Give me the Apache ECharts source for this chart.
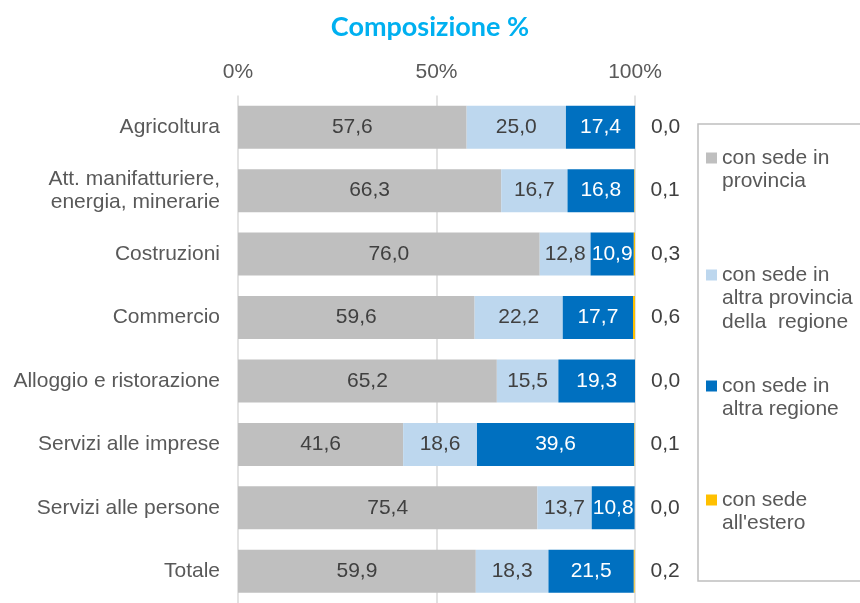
<!DOCTYPE html>
<html>
<head>
<meta charset="utf-8">
<script src="https://cdn.jsdelivr.net/npm/echarts@6/dist/echarts.min.js"></script>
<style>
  html, body { margin: 0; padding: 0; background: #fff; }
  #chart { width: 860px; height: 603px; }
</style>
</head>
<body>
<div id="chart"></div>
<script>
var categories = ['Agricoltura', 'Att. manifatturiere,\nenergia, minerarie', 'Costruzioni', 'Commercio',
  'Alloggio e ristorazione', 'Servizi alle imprese', 'Servizi alle persone', 'Totale']
var seriesNames = ['con sede in\nprovincia', 'con sede in\naltra provincia\ndella  regione',
  'con sede in\naltra regione', "con sede\nall'estero"]
var provincia = [57.6, 66.3, 76.0, 59.6, 65.2, 41.6, 75.4, 59.9]
var altraProvincia = [25.0, 16.7, 12.8, 22.2, 15.5, 18.6, 13.7, 18.3]
var altraRegione = [17.4, 16.8, 10.9, 17.7, 19.3, 39.6, 10.8, 21.5]
var estero = [0.0, 0.1, 0.3, 0.6, 0.0, 0.1, 0.0, 0.2]
var xTicks = [0, 50, 100]

var font = "'Liberation Sans', Arial, sans-serif"
var colors = ['#bfbfbf', '#bdd7ee', '#0070c0', '#ffc000']
var labelColors = ['#404040', '#404040', '#ffffff', '#404040']
var barWidth = 43
var lh = 23.5

var chart = echarts.init(document.getElementById('chart'))

function fmt(p) {
  return p.value.toFixed(1).replace('.', ',')
}

function makeSeries(i, data) {
  return {
    name: seriesNames[i],
    type: 'bar',
    stack: 'tot',
    barWidth: barWidth,
    itemStyle: { color: colors[i] },
    label: {
      show: true,
      position: i === 3 ? 'right' : 'inside',
      distance: 16,
      color: labelColors[i],
      fontSize: 21,
      fontFamily: font,
      formatter: fmt
    },
    emphasis: { disabled: true },
    data: data
  }
}

// una legenda per voce; righe vuote davanti così la prima riga sta all'altezza del quadratino
var legendIconY = [158, 275, 386, 500]
var legends = seriesNames.map(function (n, i) {
  var lines = n.split('\n').length
  var total = 2 * lines - 1
  return {
    data: [n],
    orient: 'vertical',
    left: 706,
    top: legendIconY[i] - total * lh / 2,
    padding: 0,
    icon: 'rect',
    itemWidth: 11,
    itemHeight: 11,
    selectedMode: false,
    formatter: function (name) {
      return new Array(lines).join(' \n') + name
    },
    textStyle: {
      fontSize: 21,
      fontFamily: font,
      color: '#595959',
      lineHeight: lh
    }
  }
})

var option = {
  animation: false,
  color: colors,
  title: {
    text: 'Composizione %',
    left: 'center',
    top: 9,
    textStyle: {
      color: '#00b0f0',
      fontSize: 27,
      fontWeight: 'bold',
      fontFamily: "Lato, 'Open Sans', sans-serif"
    }
  },
  legend: legends,
  graphic: [{
    type: 'rect',
    shape: { x: 698, y: 124, width: 200, height: 457 },
    style: { fill: 'none', stroke: '#bfbfbf', lineWidth: 1.5 },
    silent: true
  }],
  grid: { left: 238, right: 225, top: 95.5, bottom: -7 },
  xAxis: {
    type: 'value',
    position: 'top',
    min: xTicks[0],
    max: xTicks[xTicks.length - 1],
    interval: xTicks[1] - xTicks[0],
    axisLine: { show: false },
    axisTick: { show: false },
    splitLine: { show: true, lineStyle: { color: '#d9d9d9', width: 1.5 } },
    axisLabel: {
      margin: 13,
      fontSize: 21,
      fontFamily: font,
      color: '#595959',
      formatter: '{value}%'
    }
  },
  yAxis: {
    type: 'category',
    inverse: true,
    data: categories,
    axisLine: { show: false },
    axisTick: { show: false },
    axisLabel: {
      margin: 18,
      fontSize: 21,
      fontFamily: font,
      color: '#595959',
      lineHeight: 23
    }
  },
  series: [
    makeSeries(0, provincia),
    makeSeries(1, altraProvincia),
    makeSeries(2, altraRegione),
    makeSeries(3, estero)
  ]
}

chart.setOption(option)
</script>
</body>
</html>
